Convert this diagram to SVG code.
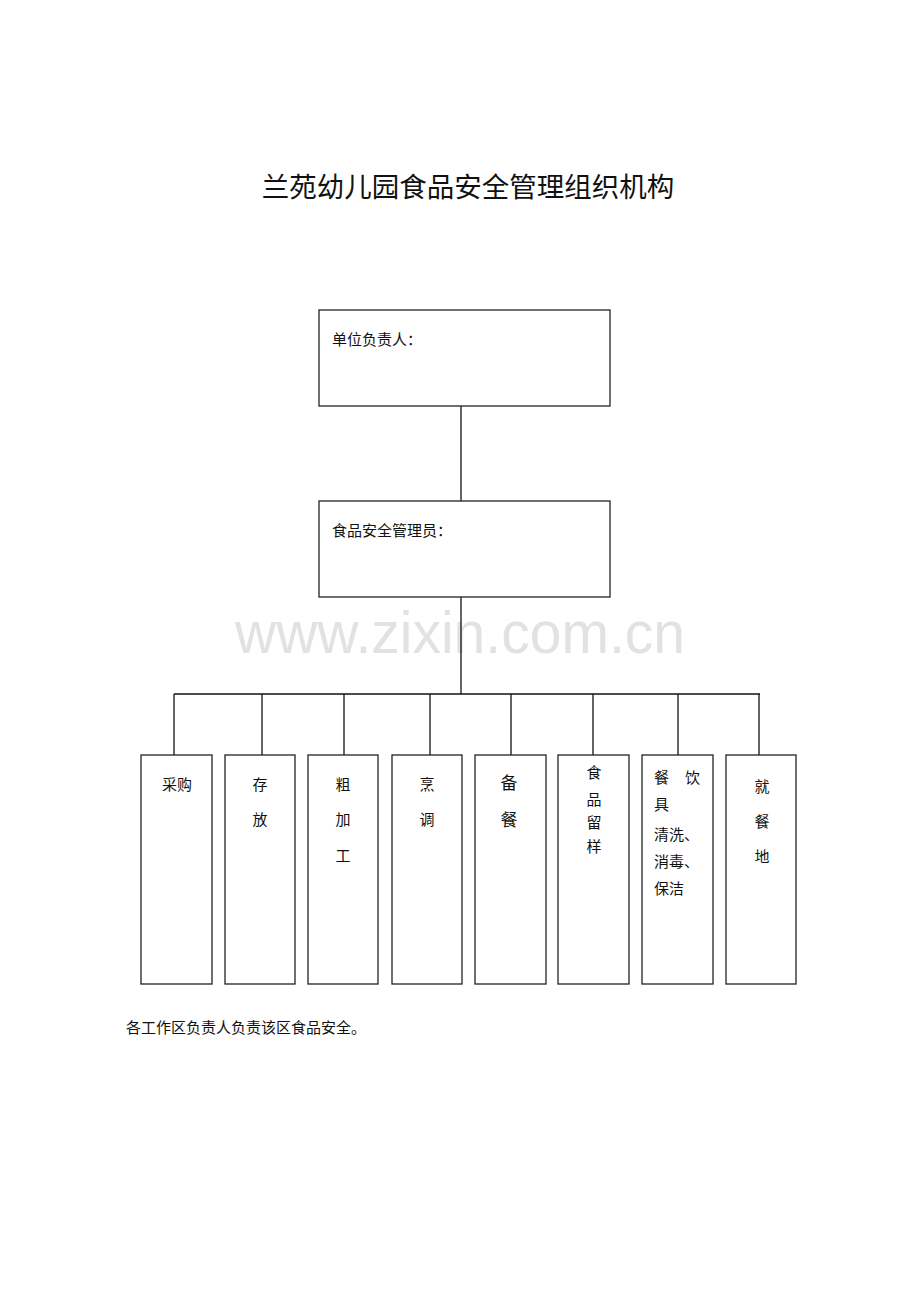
<svg xmlns="http://www.w3.org/2000/svg" width="920" height="1302" viewBox="0 0 920 1302">
<style>
.t{font-family:"Liberation Serif","Noto Sans CJK SC",serif;fill:#111}
.s{font-size:15px}
.box{fill:none;stroke:#222;stroke-width:1.3}
.ln{stroke:#111;stroke-width:1.3;fill:none}
.c{text-anchor:middle}
</style>
<rect width="920" height="1302" fill="#fff"/>
<text class="t c" x="468" y="197" font-size="27.5">兰苑幼儿园食品安全管理组织机构</text>
<text x="460" y="653" font-family="Liberation Sans, Arial, sans-serif" font-size="60" fill="#e2e2e2" text-anchor="middle" textLength="450" lengthAdjust="spacingAndGlyphs">www.zixin.com.cn</text>
<g id="connectors">
<line class="ln" x1="461" y1="406" x2="461" y2="501"/>
<line class="ln" x1="461" y1="597" x2="461" y2="694"/>
<line class="ln" x1="174" y1="694" x2="760" y2="694"/>
<line class="ln" x1="174" y1="694" x2="174" y2="755"/>
<line class="ln" x1="262" y1="694" x2="262" y2="755"/>
<line class="ln" x1="344" y1="694" x2="344" y2="755"/>
<line class="ln" x1="430" y1="694" x2="430" y2="755"/>
<line class="ln" x1="511" y1="694" x2="511" y2="755"/>
<line class="ln" x1="593" y1="694" x2="593" y2="755"/>
<line class="ln" x1="678" y1="694" x2="678" y2="755"/>
<line class="ln" x1="759" y1="694" x2="759" y2="755"/>
</g>
<g id="n-head">
<rect class="box" x="319" y="310" width="291" height="96"/>
<text class="t s" x="332" y="345">单位负责人：</text>
</g>
<g id="n-manager">
<rect class="box" x="319" y="501" width="291" height="96"/>
<text class="t s" x="332" y="536">食品安全管理员：</text>
</g>
<g id="n-1">
<rect class="box" x="141" y="755" width="71" height="229"/>
<text class="t s c" x="177" y="790">采购</text>
</g>
<g id="n-2">
<rect class="box" x="225" y="755" width="70" height="229"/>
<text class="t s c" x="260" y="790">存</text>
<text class="t s c" x="260" y="825">放</text>
</g>
<g id="n-3">
<rect class="box" x="308" y="755" width="70" height="229"/>
<text class="t s c" x="343" y="790">粗</text>
<text class="t s c" x="343" y="825">加</text>
<text class="t s c" x="343" y="861">工</text>
</g>
<g id="n-4">
<rect class="box" x="392" y="755" width="70" height="229"/>
<text class="t s c" x="427" y="790">烹</text>
<text class="t s c" x="427" y="825">调</text>
</g>
<g id="n-5">
<rect class="box" x="475" y="755" width="71" height="229"/>
<text class="t c" font-size="17" x="509" y="789">备</text>
<text class="t c" font-size="17" x="509" y="826">餐</text>
</g>
<g id="n-6">
<rect class="box" x="558" y="755" width="71" height="229"/>
<text class="t s c" x="594" y="778">食</text>
<text class="t s c" x="594" y="805">品</text>
<text class="t s c" x="594" y="828">留</text>
<text class="t s c" x="594" y="852">样</text>
</g>
<g id="n-7">
<rect class="box" x="642" y="755" width="71" height="229"/>
<text class="t s" x="654" y="783">餐</text>
<text class="t s" x="685" y="783">饮</text>
<text class="t s" x="654" y="810">具</text>
<text class="t s" x="654" y="840">清洗、</text>
<text class="t s" x="654" y="867">消毒、</text>
<text class="t s" x="654" y="894">保洁</text>
</g>
<g id="n-8">
<rect class="box" x="726" y="755" width="70" height="229"/>
<text class="t s c" x="762" y="792">就</text>
<text class="t s c" x="762" y="827">餐</text>
<text class="t s c" x="762" y="862">地</text>
</g>
<text class="t s" x="126" y="1033">各工作区负责人负责该区食品安全。</text>
</svg>
